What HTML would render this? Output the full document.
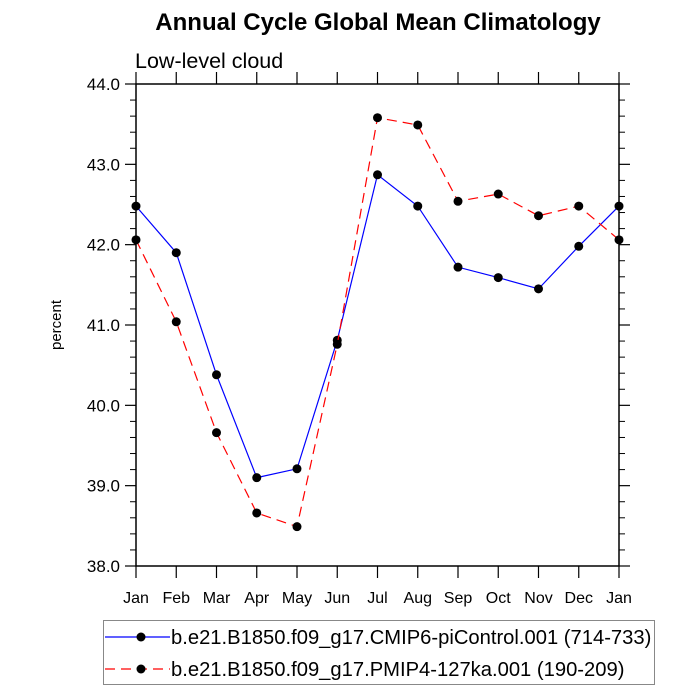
<!DOCTYPE html>
<html><head><meta charset="utf-8"><style>
body{margin:0;background:#fff;width:700px;height:700px;overflow:hidden}
svg{display:block;font-family:"Liberation Sans",Arial,sans-serif}
</style></head><body>
<svg id="chart" width="700" height="700">
<text x="378" y="30" text-anchor="middle" font-size="24" font-weight="bold">Annual Cycle Global Mean Climatology</text>
<text x="135" y="68" font-size="21.5">Low-level cloud</text>
<text transform="translate(61,325) rotate(-90)" text-anchor="middle" font-size="15">percent</text>
<g id="axes"></g>
<g id="series"></g>
<g>
<rect x="103.5" y="620.5" width="551" height="64" fill="#fff" stroke="#888" stroke-width="1"/>
<line x1="105" y1="637" x2="170" y2="637" stroke="#0000ff" stroke-width="1.2"/>
<circle cx="141" cy="637" r="4.5" fill="#000"/>
<text x="171" y="644" font-size="20.2">b.e21.B1850.f09_g17.CMIP6-piControl.001 (714-733)</text>
<line x1="105" y1="669" x2="170" y2="669" stroke="#ff0000" stroke-width="1.2" stroke-dasharray="10,6"/>
<circle cx="141" cy="669" r="4.5" fill="#000"/>
<text x="171" y="676" font-size="20.2">b.e21.B1850.f09_g17.PMIP4-127ka.001 (190-209)</text>
</g>
</svg>
<script>
const months=["Jan","Feb","Mar","Apr","May","Jun","Jul","Aug","Sep","Oct","Nov","Dec","Jan"];
const piControl=[42.48,41.90,40.38,39.10,39.21,40.81,42.87,42.48,41.72,41.59,41.45,41.98,42.48];
const ka127=[42.06,41.04,39.66,38.66,38.49,40.76,43.58,43.49,42.54,42.63,42.36,42.48,42.06];
const yTicks=["38.0","39.0","40.0","41.0","42.0","43.0","44.0"];
const NS="http://www.w3.org/2000/svg";
const L=136,R=619,T=84,B=566,ymin=38,ymax=44;
const xs=i=>L+(R-L)*i/(months.length-1);
const ys=v=>B-(B-T)*(v-ymin)/(ymax-ymin);
function mk(tag,attrs,parent){const e=document.createElementNS(NS,tag);for(const k in attrs)e.setAttribute(k,attrs[k]);parent.appendChild(e);return e;}
const ax=document.getElementById('axes');
const frame=mk('rect',{x:L,y:T,width:R-L,height:B-T,fill:'none',stroke:'#000','stroke-width':1.5},ax);


months.forEach((m,i)=>{const x=xs(i);
 mk('line',{x1:x,y1:B,x2:x,y2:B+12,stroke:'#000','stroke-width':1.2},ax);
 mk('line',{x1:x,y1:T,x2:x,y2:T-12,stroke:'#000','stroke-width':1.2},ax);
 const t=mk('text',{x:x,y:B+37,'text-anchor':'middle','font-size':16},ax);t.textContent=m;
 
 
});
yTicks.forEach(s=>{const y=ys(parseFloat(s));
 mk('line',{x1:L,y1:y,x2:L-11,y2:y,stroke:'#000','stroke-width':1.2},ax);
 mk('line',{x1:R,y1:y,x2:R+11,y2:y,stroke:'#000','stroke-width':1.2},ax);
 const t=mk('text',{x:L-16,y:y+6,'text-anchor':'end','font-size':17},ax);t.textContent=s;
 
 
});
for(let v=ymin;v<ymax-0.01;v+=1){for(let k=1;k<5;k++){const y=ys(v+k*0.2);
 mk('line',{x1:L,y1:y,x2:L-6,y2:y,stroke:'#000','stroke-width':1},ax);
 mk('line',{x1:R,y1:y,x2:R+6,y2:y,stroke:'#000','stroke-width':1},ax);}}
const sg=document.getElementById('series');
function series(vals,color,dash,name){
 const pts=vals.map((v,i)=>xs(i)+','+ys(v)).join(' ');
 const pl=mk('polyline',{points:pts,fill:'none',stroke:color,'stroke-width':1.2,'stroke-dasharray':dash},sg);
 
 
 vals.forEach((v,i)=>{const c=mk('circle',{cx:xs(i),cy:ys(v),r:4.5,fill:'#000'},sg);
  
  });
}
series(piControl,'#0000ff','none','picontrol');
series(ka127,'#ff0000','10,6','pmip4-127ka');
</script>
</body></html>
